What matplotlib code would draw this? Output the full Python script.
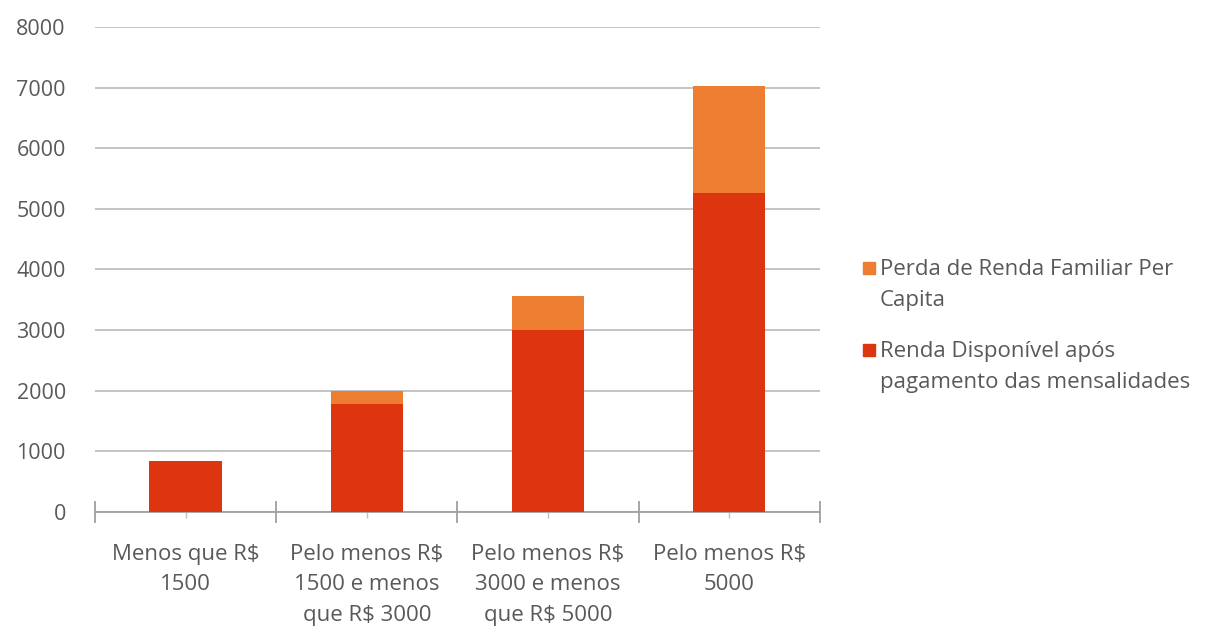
import numpy as np
import matplotlib
matplotlib.use("Agg")
import matplotlib.pyplot as plt
from matplotlib.patches import Rectangle

categories = ["Menos que R$\n1500",
              "Pelo menos R$\n1500 e menos\nque R$ 3000",
              "Pelo menos R$\n3000 e menos\nque R$ 5000",
              "Pelo menos R$\n5000"]
renda_disponivel = [840, 1780, 3000, 5260]
perda_renda = [0, 210, 560, 1760]
yticks = [0, 1000, 2000, 3000, 4000, 5000, 6000, 7000, 8000]
legend_labels = ["Perda de Renda Familiar Per\nCapita",
                 "Renda Disponível após\npagamento das mensalidades"]

RED = "#dd3510"
ORANGE = "#ed7d31"
TXT = "#595959"

plt.rcParams["font.family"] = ["Open Sans", "DejaVu Sans"]

W, H = 1218, 628
fig = plt.figure(figsize=(W / 100, H / 100), dpi=100)
ax = fig.add_axes([0.078, 0.185, 0.595, 0.772])

x = np.arange(len(categories))
ax.bar(x, renda_disponivel, width=0.4, color=RED, zorder=3)
ax.bar(x, perda_renda, width=0.4, bottom=renda_disponivel, color=ORANGE, zorder=3)

ax.set_xlim(-0.5, len(categories) - 0.5)
ax.set_ylim(0, 8000)
ax.set_yticks(yticks)
ax.set_yticklabels([str(v) for v in yticks], color=TXT, fontsize=15.5)
ax.yaxis.grid(True, color="#c4c4c4", lw=1.4, zorder=0)
ax.tick_params(axis="y", length=0, pad=21)

ax.set_xticks(x)
ax.set_xticklabels(categories, color=TXT, fontsize=16, linespacing=1.6)
ax.set_xticks(np.arange(len(categories) + 1) - 0.5, minor=True)
ax.tick_params(axis="x", which="major", length=8, direction="inout",
               color="#c0c0c0", width=1.0, pad=19)
ax.tick_params(axis="x", which="minor", length=16, direction="inout",
               color="#a0a0a0", width=1.3)

for s in ["top", "right", "left"]:
    ax.spines[s].set_visible(False)
ax.spines["bottom"].set_color("#a0a0a0")
ax.spines["bottom"].set_linewidth(1.3)

# legend drawn by hand so the swatch sits on the first text line
colors = [ORANGE, RED]
rows = [268, 350]
for lab, col, yc in zip(legend_labels, colors, rows):
    fig.patches.append(Rectangle((863 / W, 1 - (yc + 6) / H), 12 / W, 12 / H,
                                 transform=fig.transFigure, color=col))
    fig.text(880 / W, 1 - (yc - 9) / H, lab, color=TXT, fontsize=16,
             va="top", ha="left", linespacing=1.6)

fig.savefig("out.png", dpi=100, facecolor="white")
